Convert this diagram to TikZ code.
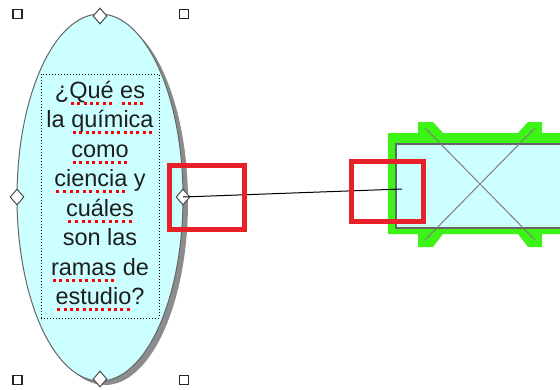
\documentclass[tikz,border=0pt]{standalone}
\usepackage{fontspec}
\setmainfont{Liberation Sans}
\usetikzlibrary{shapes.geometric}
\definecolor{lcyan}{HTML}{CCFFFF}
\definecolor{hgreen}{HTML}{3CF516}
\definecolor{redbox}{HTML}{E8202A}
\definecolor{txt}{HTML}{1E1E1E}
\newcommand\sq[1]{\setbox0\hbox{#1}\leavevmode\rlap{\raisebox{-6.5pt}{\color{red}\hbox to \wd0{\xleaders\hbox to 6.2pt{\hss\rule{3pt}{3pt}\hss}\hfill}}}\box0\relax}
\tikzset{
  handle/.style={draw=black!85,fill=white,line width=1.8pt,minimum size=9pt,inner sep=0pt,outer sep=0pt},
  grip/.style={diamond,draw=black!70,fill=white,line width=1pt,minimum width=14pt,minimum height=16pt,inner sep=0pt},
  txtline/.style={anchor=base,inner sep=0pt,text=txt,font=\fontsize{23.5pt}{29.5pt}\selectfont},
  redframe/.style={draw=redbox,line width=4.5pt},
}
\begin{document}
\begin{tikzpicture}[x=1pt,y=-1pt]
\useasboundingbox (0,0) rectangle (560,389);
% shadow
\fill[black!45] (105,202) ellipse [x radius=83, y radius=183];
% ellipse
\node[ellipse,draw=black!60,fill=lcyan,line width=1pt,minimum width=166pt,minimum height=367pt,inner sep=0pt,outer sep=0pt] (e) at (100,197.5) {};
% dotted text frame
\node[draw=black,dotted,line width=1pt,minimum width=118pt,minimum height=244pt,inner sep=0pt] (tf) at (100,196) {};
% text lines
\node[txtline] (t1) at (100,98) {¿\sq{Qué} \sq{es}};
\node[txtline] (t2) at (100,127.5) {la \sq{química}};
\node[txtline] (t3) at (100,157) {\sq{como}};
\node[txtline] (t4) at (100,186.5) {\sq{ciencia} y};
\node[txtline] (t5) at (100,216) {\sq{cuáles}};
\node[txtline] (t6) at (100,245.5) {son las};
\node[txtline] (t7) at (100,275) {\sq{ramas} de};
\node[txtline] (t8) at (100,304.5) {\sq{estudio}?};
% handles
\node[handle] (h1) at (17.5,14) {};
\node[handle] (h2) at (184,14) {};
\node[handle] (h3) at (17.5,380) {};
\node[handle] (h4) at (184,380) {};
\node[grip] (g1) at (100,16) {};
\node[grip] (g2) at (17,197) {};
\node[grip] (g3) at (183,197) {};
\node[grip] (g4) at (100,379) {};
% green shape
\fill[hgreen] (388,133) -- (418,133) -- (418,122) -- (433,122) -- (443,133) -- (518,133) -- (528,122) -- (542,122) -- (542,133) -- (566,133) -- (566,234) -- (542,234) -- (542,247) -- (528,247) -- (518,234) -- (443,234) -- (433,247) -- (418,247) -- (418,234) -- (388,234) -- cycle;
% rectangle
\node[draw=black!60,fill=lcyan,line width=1.5pt,minimum width=180pt,minimum height=84pt,inner sep=0pt,anchor=north west] (r) at (395,143) {};
\draw[black!50,line width=1pt] (425,128) -- (535,240);
\draw[black!50,line width=1pt] (535,128) -- (425,240);
% connector
\coordinate (cend) at (402,189);
\draw[black,line width=1pt] (g3.center) -- (cend);
% red frames
\draw[redframe] (169.5,165.5) rectangle (244.5,229.5);
\draw[redframe] (351.5,161.5) rectangle (423.5,221.5);
\end{tikzpicture}
\end{document}
